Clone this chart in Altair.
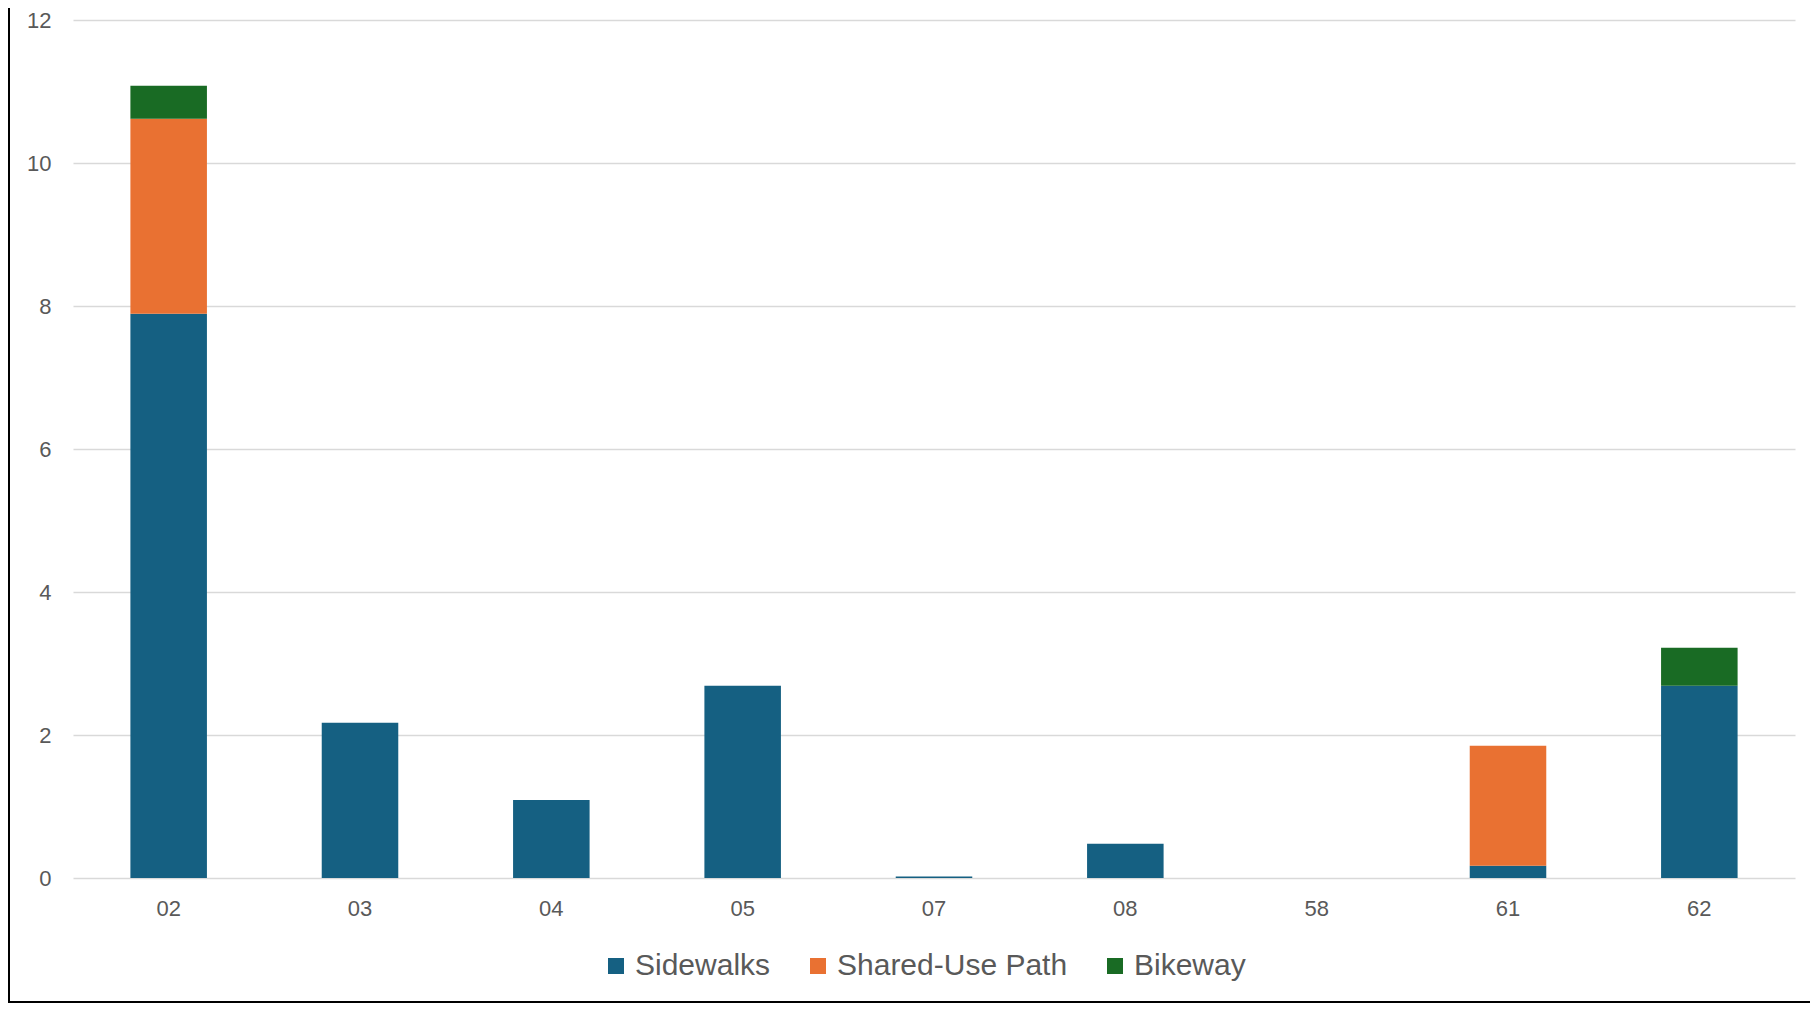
import altair as alt
import pandas as pd

districts = ["02", "03", "04", "05", "07", "08", "58", "61", "62"]
sidewalks = [7.89, 2.17, 1.09, 2.69, 0.02, 0.48, 0.0, 0.17, 2.69]
shared_use = [2.73, 0.0, 0.0, 0.0, 0.0, 0.0, 0.0, 1.68, 0.0]
bikeway = [0.46, 0.0, 0.0, 0.0, 0.0, 0.0, 0.0, 0.0, 0.53]

series = ["Sidewalks", "Shared-Use Path", "Bikeway"]
colors = ["#156082", "#E97132", "#196B24"]

rows = []
for i, d in enumerate(districts):
    for k, (name, vals) in enumerate(zip(series, [sidewalks, shared_use, bikeway])):
        rows.append({"district": d, "type": name, "value": vals[i], "order": k})
df = pd.DataFrame(rows)

FONT = "Liberation Sans"

bars = alt.Chart(df).mark_bar(width=alt.RelativeBandSize(0.40)).encode(
    x=alt.X("district:N", sort=districts,
            scale=alt.Scale(paddingInner=0, paddingOuter=0),
            axis=alt.Axis(title=None, labelAngle=0, domain=False, ticks=False,
                          labelPadding=20, labelFontSize=22, labelColor="#595959",
                          labelFont=FONT)),
    y=alt.Y("value:Q", stack="zero",
            scale=alt.Scale(domain=[0, 12], nice=False),
            axis=alt.Axis(title=None, values=[0, 2, 4, 6, 8, 10, 12], domain=False,
                          ticks=False, labelPadding=22, labelFontSize=22,
                          labelColor="#595959", labelFont=FONT,
                          gridColor="#d9d9d9", gridWidth=1.5)),
    color=alt.Color("type:N", sort=series,
                    scale=alt.Scale(domain=series, range=colors),
                    legend=alt.Legend(title=None, orient="none", direction="horizontal",
                                      legendX=528, legendY=931,
                                      symbolType="square", symbolSize=256,
                                      symbolStrokeWidth=0,
                                      labelFontSize=30, labelFont=FONT,
                                      labelColor="#595959", labelOffset=4,
                                      labelLimit=0,
                                      columnPadding=32, padding=0)),
    order=alt.Order("order:Q"),
)

frame_df = pd.DataFrame({"a": [0]})
left_border = alt.Chart(frame_df).mark_rule(color="black", strokeWidth=2).encode(
    x=alt.value(-64), y=alt.value(-12), y2=alt.value(983)
)
bottom_border = alt.Chart(frame_df).mark_rule(color="black", strokeWidth=2).encode(
    x=alt.value(-65), x2=alt.value(1737), y=alt.value(982)
)

chart = alt.layer(bars, left_border, bottom_border).properties(
    width=1722,
    height=858,
    autosize=alt.AutoSizeParams(type="none"),
    padding={"left": 65, "top": 12, "right": 15, "bottom": 125},
    background="white",
).configure_view(stroke=None)

chart.save("out.html", embed_options={"renderer": "svg", "actions": False})
